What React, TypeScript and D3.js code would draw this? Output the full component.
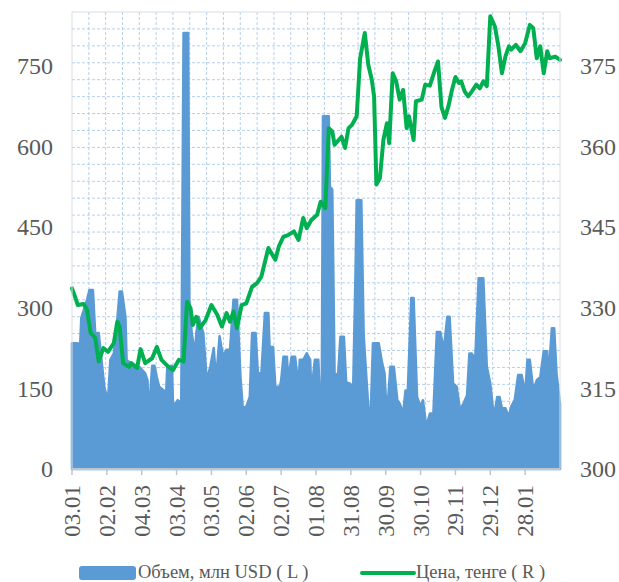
import React, { useEffect, useRef } from "react";
import * as d3 from "d3";

// first day of the series, x values below are days counted from it
const startDate = "2018-01-03";

const volDays = [
  0, 5, 6, 8, 13, 15, 18, 20, 23, 26, 28, 31, 33, 36, 38, 41, 43, 46, 47, 51,
  54, 58, 63, 65, 66, 69, 71, 73, 75, 79, 81, 82, 86, 87, 91, 94, 96, 100, 101,
  103, 106, 107, 109, 113, 116, 119, 122, 124, 127, 130, 133, 136, 139, 142,
  145, 147, 150, 153, 155, 158, 160, 163, 166, 169, 170, 173, 175, 179, 180,
  182, 185, 186, 189, 192, 195, 196, 199, 202, 205, 206, 209, 212, 213, 215,
  216, 221, 222, 224, 226, 229, 231, 234, 236, 239, 242, 244, 245, 249, 251,
  252, 255, 257, 259, 264, 267, 269, 271, 274, 277, 280, 282, 285, 287, 289,
  292, 294, 297, 300, 302, 305, 308, 311, 314, 317, 320, 323, 325, 328, 331,
  334, 337, 340, 342, 344, 347, 350, 354, 357, 360, 363, 366, 368, 370, 373,
  376, 378, 381, 384, 387, 390, 392, 394, 397, 400, 403, 406, 409, 410, 413,
  415, 417, 420,
];
const volValues = [
  234, 234, 178, 281, 315, 333, 333, 252, 253, 190, 150, 128, 203, 215, 253,
  330, 330, 283, 203, 196, 190, 190, 178, 165, 97, 192, 192, 171, 153, 146, 140,
  190, 192, 116, 128, 122, 811, 811, 315, 253, 215, 253, 283, 253, 165, 190,
  225, 165, 247, 209, 222, 222, 315, 315, 171, 113, 116, 134, 253, 253, 178,
  178, 290, 290, 227, 227, 153, 153, 165, 209, 209, 165, 209, 209, 153, 203,
  203, 215, 203, 140, 203, 203, 150, 159, 656, 656, 525, 520, 178, 175, 246,
  246, 161, 159, 153, 364, 500, 500, 253, 215, 116, 97, 234, 234, 196, 178, 97,
  190, 190, 128, 122, 103, 146, 146, 318, 318, 134, 116, 128, 78, 103, 103, 255,
  255, 222, 283, 283, 159, 153, 110, 122, 137, 215, 215, 203, 355, 355, 190,
  159, 97, 134, 134, 113, 113, 97, 116, 128, 175, 175, 140, 203, 203, 146, 165,
  171, 219, 219, 165, 262, 262, 178, 122,
];

const priceDays = [
  0, 3, 5, 10, 13, 16, 20, 23, 27, 31, 36, 39, 41, 44, 49, 51, 56, 59, 63, 69,
  73, 77, 83, 87, 92, 96, 99, 102, 104, 107, 110, 115, 120, 125, 129, 133, 136,
  139, 142, 146, 150, 155, 159, 163, 169, 175, 178, 182, 186, 191, 195, 199,
  202, 206, 211, 214, 218, 221, 224, 226, 232, 235, 238, 241, 245, 248, 252,
  255, 258, 260, 262, 265, 268, 271, 273, 276, 279, 282, 285, 288, 290, 294,
  296, 301, 304, 308, 312, 315, 318, 321, 324, 327, 330, 333, 335, 338, 341,
  344, 348, 351, 354, 357, 360, 364, 367, 370, 373, 376, 378, 382, 386, 390,
  394, 397, 400, 403, 406, 409, 411, 416, 420,
];
const priceValues = [
  333.6, 331.8, 330.5, 330.7, 329.6, 325.3, 324.4, 320, 322.5, 321.8, 323.4,
  327.4, 326.5, 319.7, 319, 319.7, 318.8, 322.3, 319.7, 320.6, 322.7, 320.3,
  319, 318.4, 320.3, 320, 331.1, 329.9, 326.8, 328.3, 326.2, 327.7, 330.5,
  328.7, 326.5, 329, 327.4, 329.3, 326.2, 330.5, 330.8, 333.9, 334.5, 335.8,
  341.1, 338.9, 341.4, 343.2, 343.5, 344.2, 342.6, 346.7, 344.8, 346.3, 347.3,
  349.7, 348.5, 363.4, 362.8, 360.3, 361.8, 359.7, 363.4, 364, 365.6, 376.4,
  381.1, 375.2, 372.4, 369.3, 352.9, 354.1, 361.2, 364.3, 360.6, 373.6, 372.1,
  368.7, 370.5, 363.4, 365.6, 361.2, 368.4, 368.7, 371.5, 371.3, 374, 375.8,
  367.3, 365.3, 367.5, 370.5, 372.9, 371.8, 372.1, 370.2, 369.3, 370.2, 371.5,
  370.8, 372.1, 371.2, 384.2, 382.3, 378.6, 373.6, 376.7, 378.6, 378, 378.9,
  377.7, 379.2, 382.6, 382, 376.4, 378.6, 373.6, 377.7, 376.4, 376.7, 376.1,
];

const leftTicks = [0, 150, 300, 450, 600, 750];
const rightTicks = [300, 315, 330, 345, 360, 375];
const xTickStepDays = 30;
const xTickCount = 14;
const volLabel = "Объем, млн USD ( L )";
const priceLabel = "Цена, тенге ( R )";

const BLUE = "#5B9BD5";
const GREEN = "#00B050";
const TEXT = "#595959";
const FONT = "'Liberation Serif', 'Times New Roman', serif";

export default function App() {
  const ref = useRef(null);

  useEffect(() => {
    const svg = d3.select(ref.current);
    svg.selectAll("*").remove();

    const width = 619;
    const height = 582;
    const margin = { top: 12, right: 59, bottom: 113, left: 72 };
    const w = width - margin.left - margin.right;
    const h = height - margin.top - margin.bottom;

    const t0 = d3.timeParse("%Y-%m-%d")(startDate);
    const toDate = (d) => d3.timeDay.offset(t0, d);

    const x = d3.scaleTime().domain([t0, toDate(420)]).range([0, w]);
    const yL = d3.scaleLinear().domain([0, 850]).range([h, 0]);
    const yR = d3.scaleLinear().domain([300, 385]).range([h, 0]);

    const g = svg
      .append("g")
      .attr("transform", "translate(" + margin.left + "," + margin.top + ")");

    // dotted grid over the plot area
    const rows = d3.range(1, 27).map((i) => (h * i) / 27);
    const cols = d3.range(1, 29).map((i) => (w * i) / 29);
    g.selectAll(".hgrid")
      .data(rows)
      .enter()
      .append("line")
      .attr("x1", 0)
      .attr("x2", w)
      .attr("y1", (d) => d)
      .attr("y2", (d) => d)
      .attr("stroke", "#B4D0EE")
      .attr("stroke-dasharray", "3,2");
    g.selectAll(".vgrid")
      .data(cols)
      .enter()
      .append("line")
      .attr("y1", 0)
      .attr("y2", h)
      .attr("x1", (d) => d)
      .attr("x2", (d) => d)
      .attr("stroke", "#B4D0EE")
      .attr("stroke-dasharray", "3,2");

    const vol = volDays.map((d, i) => ({ date: toDate(d), v: volValues[i] }));
    const price = priceDays.map((d, i) => ({
      date: toDate(d),
      v: priceValues[i],
    }));

    g.append("path")
      .datum(vol)
      .attr(
        "d",
        d3
          .area()
          .x((d) => x(d.date))
          .y0(h)
          .y1((d) => yL(d.v))
      )
      .attr("fill", BLUE)
      .attr("stroke", BLUE)
      .attr("stroke-width", 2.5)
      .attr("stroke-linejoin", "round");

    g.append("path")
      .datum(price)
      .attr(
        "d",
        d3
          .line()
          .x((d) => x(d.date))
          .y((d) => yR(d.v))
      )
      .attr("fill", "none")
      .attr("stroke", GREEN)
      .attr("stroke-width", 4)
      .attr("stroke-linejoin", "round")
      .attr("stroke-linecap", "round");

    // plot border
    g.append("rect")
      .attr("x", 0)
      .attr("y", 0)
      .attr("width", w)
      .attr("height", h)
      .attr("fill", "none")
      .attr("stroke", "#D9DEE6")
      .attr("stroke-width", 1);

    // bottom axis
    g.append("line")
      .attr("x1", 0)
      .attr("x2", w)
      .attr("y1", h)
      .attr("y2", h)
      .attr("stroke", "#BFC5CC")
      .attr("stroke-width", 2);

    const xTicks = d3.range(xTickCount).map((i) => toDate(i * xTickStepDays));
    const fmt = d3.timeFormat("%d.%m");
    g.selectAll(".xtick")
      .data(xTicks)
      .enter()
      .append("line")
      .attr("x1", (d) => x(d))
      .attr("x2", (d) => x(d))
      .attr("y1", h)
      .attr("y2", h + 6)
      .attr("stroke", "#BFC5CC")
      .attr("stroke-width", 1.5);
    g.selectAll(".xlabel")
      .data(xTicks)
      .enter()
      .append("text")
      .attr(
        "transform",
        (d) => "translate(" + x(d) + "," + (h + 16) + ") rotate(-90)"
      )
      .attr("text-anchor", "end")
      .attr("dy", "0.35em")
      .attr("font-family", FONT)
      .attr("font-size", 23)
      .attr("fill", TEXT)
      .text((d) => fmt(d));

    g.selectAll(".ylabel")
      .data(leftTicks)
      .enter()
      .append("text")
      .attr("x", -19)
      .attr("y", (d) => yL(d))
      .attr("dy", "0.35em")
      .attr("text-anchor", "end")
      .attr("font-family", FONT)
      .attr("font-size", 24)
      .attr("fill", TEXT)
      .text((d) => d);

    g.selectAll(".rlabel")
      .data(rightTicks)
      .enter()
      .append("text")
      .attr("x", w + 20)
      .attr("y", (d) => yR(d))
      .attr("dy", "0.35em")
      .attr("text-anchor", "start")
      .attr("font-family", FONT)
      .attr("font-size", 24)
      .attr("fill", TEXT)
      .text((d) => d);

    // legend
    const lg = svg.append("g").attr("transform", "translate(0,572)");
    lg.append("rect")
      .attr("x", 79)
      .attr("y", -6)
      .attr("width", 57)
      .attr("height", 14)
      .attr("rx", 3)
      .attr("fill", BLUE);
    lg.append("text")
      .attr("x", 138)
      .attr("dy", "0.35em")
      .attr("font-family", FONT)
      .attr("font-size", 18.5)
      .attr("fill", TEXT)
      .text(volLabel);
    lg.append("line")
      .attr("x1", 362)
      .attr("x2", 414)
      .attr("y1", 1)
      .attr("y2", 1)
      .attr("stroke", GREEN)
      .attr("stroke-width", 4)
      .attr("stroke-linecap", "round");
    lg.append("text")
      .attr("x", 416)
      .attr("dy", "0.35em")
      .attr("font-family", FONT)
      .attr("font-size", 18.5)
      .attr("fill", TEXT)
      .text(priceLabel);
  }, []);

  return (
    <svg
      ref={ref}
      width={619}
      height={582}
      style={{ position: "absolute", left: 0, top: 0, background: "#fff" }}
    />
  );
}
